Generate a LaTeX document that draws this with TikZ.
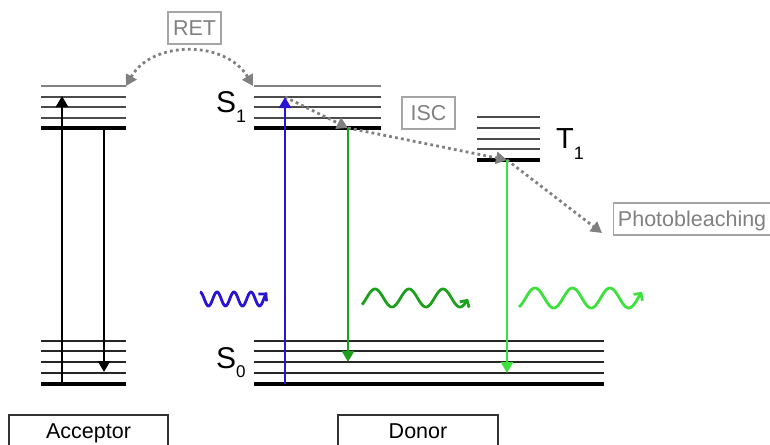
\documentclass[tikz,border=0pt]{standalone}
\usepackage{fontspec}
\setmainfont{Liberation Sans}
\usetikzlibrary{arrows.meta}
\definecolor{pumpblue}{RGB}{40,20,210}
\definecolor{fluogreen}{RGB}{30,160,30}
\definecolor{phosgreen}{RGB}{60,225,60}
\definecolor{procgray}{RGB}{128,128,128}
\definecolor{boxgray}{RGB}{165,165,165}
\definecolor{levelgray}{RGB}{130,130,130}
\definecolor{leveldark}{RGB}{75,75,75}
\begin{document}
\begin{tikzpicture}[x=1pt,y=-1pt,
  lvtop/.style={levelgray, line width=1.6pt},
  lvmid/.style={leveldark, line width=1.6pt},
  lvlow/.style={black!85, line width=1.4pt},
  lvbase/.style={black, line width=3.4pt},
  trans/.style={line width=2.8pt, -{Triangle[length=11pt,width=12pt]}},
  proc/.style={procgray, line width=2.8pt, dash pattern=on 2.8pt off 3.2pt},
  ptip/.style={-{Triangle[length=11pt,width=12pt]}},
  wave/.style={line width=2.8pt, -{Straight Barb[length=5pt,width=11pt]}},
  tag/.style={draw=boxgray, line width=1.2pt, text=procgray, inner sep=0pt,
    font=\fontsize{21.5}{24}\selectfont, text height=15.4pt, text depth=0pt,
    minimum height=32pt},
  panel/.style={draw=black!80, line width=1.2pt, inner sep=0pt,
    font=\fontsize{21.5}{24}\selectfont, text height=15.4pt, text depth=0pt,
    minimum height=32pt},
  state/.style={font=\fontsize{30}{32}\selectfont, inner sep=0pt, anchor=base west},
]
\useasboundingbox (0,0) rectangle (770,444);
\clip (0,0) rectangle (770,444);

% ---- energy levels ----
% acceptor excited
\draw[lvtop] (41,86) -- (126,86);
\foreach \y in {97,107,118} \draw[lvmid] (41,\y) -- (126,\y);
\draw[lvbase] (41,128) -- (126,128);
% acceptor ground
\foreach \y in {341,351,362,373} \draw[lvlow] (41,\y) -- (126,\y);
\draw[lvbase] (41,384) -- (126,384);
% donor S1
\draw[lvtop] (254,86) -- (381,86);
\foreach \y in {97,107,118} \draw[lvmid] (254,\y) -- (381,\y);
\draw[lvbase] (254,128) -- (381,128);
% donor T1
\foreach \y in {117,128,139,149} \draw[lvmid] (477,\y) -- (540,\y);
\draw[lvbase] (477,160) -- (540,160);
% donor S0
\foreach \y in {341,351,362,373} \draw[lvlow] (254,\y) -- (604,\y);
\draw[lvbase] (254,384) -- (604,384);

% ---- state labels ----
\node[state] (s1) at (216,112) {S\raisebox{-10pt}{\fontsize{18}{18}\selectfont 1}};
\node[state] (s0) at (216,368) {S\raisebox{-9pt}{\fontsize{17}{17}\selectfont 0}};
\node[state, font=\fontsize{29}{31}\selectfont] (t1) at (556,148) {T\raisebox{-11pt}{\fontsize{18}{18}\selectfont 1}};

% ---- process labels ----
\node[tag, minimum width=53pt] (ret) at (194.5,28) {RET};
\node[tag, minimum width=53pt] (isc) at (428.5,113) {ISC};
\node[tag, minimum width=160pt, anchor=west] (pb) at (613,219) {\hspace*{-3pt}Photobleaching\hfill};
\node[panel, minimum width=159pt] (acc) at (88.5,431) {Acceptor};
\node[panel, minimum width=160pt] (don) at (418,431) {Donor};

% ---- named points ----
\coordinate (aup0) at (62,384);
\coordinate (aup1) at (62,96);
\coordinate (adn0) at (104,128);
\coordinate (adn1) at (104,372);
\coordinate (ex0) at (285,384);
\coordinate (ex1) at (285,97);
\coordinate (fl0) at (348,128);
\coordinate (fl1) at (348,362);
\coordinate (ph0) at (507,160);
\coordinate (ph1) at (507,373);
\coordinate (retl) at (126,86);
\coordinate (retr) at (253,86);
\coordinate (pbend) at (602,233);

% ---- processes (dotted) ----
\draw[proc, {Triangle[length=11pt,width=12pt]}-{Triangle[length=11pt,width=12pt]}]
  (retl) .. controls (152,40) and (226,40) .. (retr);
\draw[proc, ptip] (ex1) -- (fl0);
\draw[proc, ptip] (fl0) -- (ph0);
\draw[proc, ptip] (ph0) -- (pbend);

% ---- transitions ----
\draw[trans, black] (aup0) -- (aup1);
\draw[trans, black] (adn0) -- (adn1);
\draw[trans, pumpblue] (ex0) -- (ex1);
\draw[trans, fluogreen] (fl0) -- (fl1);
\draw[trans, phosgreen] (ph0) -- (ph1);

% ---- photons ----
\draw[wave, pumpblue] plot[domain=0:67, samples=90, smooth]
  ({200+\x}, {299-7*cos(\x/17*360)});
\draw[wave, fluogreen] plot[domain=-4.5:101.5, samples=120, smooth]
  ({366.5+\x}, {298-9*sin(\x/34*360)});
\draw[wave, phosgreen] plot[domain=-6.6:116.4, samples=120, smooth]
  ({525.6+\x}, {298-10*sin(\x/37.5*360)});
\end{tikzpicture}
\end{document}
